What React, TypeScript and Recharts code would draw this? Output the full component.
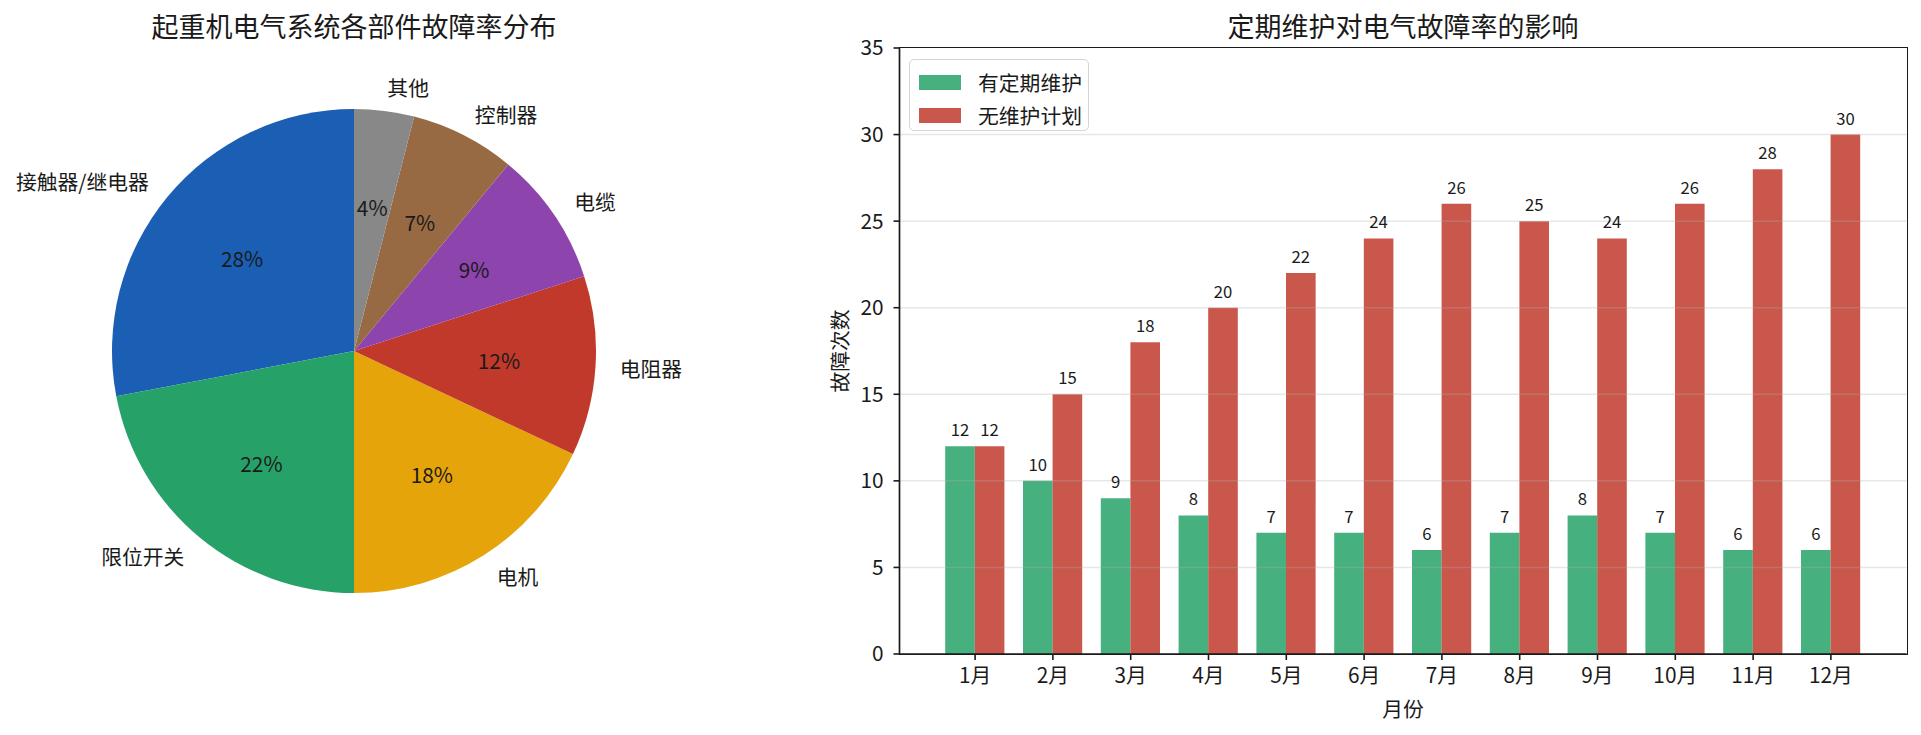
import {
  PieChart,
  Pie,
  Cell,
  BarChart,
  Bar,
  XAxis,
  YAxis,
  ReferenceLine,
  LabelList,
  Legend,
} from 'recharts'

const FONT = '"Noto Sans CJK SC", "Noto Sans", sans-serif'
const INK = '#1a1a1a'

// pie: share of failures by component
const parts = ['接触器/继电器', '限位开关', '电机', '电阻器', '电缆', '控制器', '其他']
const partShares = [28, 22, 18, 12, 9, 7, 4]
const partColors = ['#1a5fb4', '#26a269', '#e5a50a', '#c0392b', '#8e44ad', '#986a44', '#888888']

// bars: monthly failures with / without maintenance
const months = ['1月', '2月', '3月', '4月', '5月', '6月', '7月', '8月', '9月', '10月', '11月', '12月']
const withMaintenance = [12, 10, 9, 8, 7, 7, 6, 7, 8, 7, 6, 6]
const withoutPlan = [12, 15, 18, 20, 22, 24, 26, 25, 24, 26, 28, 30]
const seriesNames = ['有定期维护', '无维护计划']
const yTicks = [0, 5, 10, 15, 20, 25, 30, 35]
const gridTicks = [5, 10, 15, 20, 25, 30]

const pieData = parts.map((name, i) => ({ name, value: partShares[i] }))
const barData = months.map((month, i) => ({
  month,
  a: withMaintenance[i],
  b: withoutPlan[i],
}))

const RADIAN = Math.PI / 180

function renderPieLabel(props: any) {
  const { cx, cy, midAngle, outerRadius, percent, name } = props
  const cos = Math.cos(-midAngle * RADIAN)
  const sin = Math.sin(-midAngle * RADIAN)
  const lx = cx + outerRadius * 1.1 * cos
  const ly = cy + outerRadius * 1.1 * sin
  const px = cx + outerRadius * 0.6 * cos
  const py = cy + outerRadius * 0.6 * sin
  return (
    <g>
      <text
        x={lx}
        y={ly}
        textAnchor={lx > cx ? 'start' : 'end'}
        dominantBaseline="central"
        fontSize={20.8}
        fontFamily={FONT}
        fill={INK}
      >
        {name}
      </text>
      <text
        x={px}
        y={py}
        textAnchor="middle"
        dominantBaseline="central"
        fontSize={20.8}
        fontFamily={FONT}
        fill={INK}
      >
        {Math.round(percent * 100)}%
      </text>
    </g>
  )
}

function renderLegend(props: any) {
  // keep the series order, not the alphabetical one
  const items = [...(props.payload || [])].sort(
    (p: any, q: any) => seriesNames.indexOf(p.value) - seriesNames.indexOf(q.value),
  )
  return (
    <div
      style={{
        width: 180,
        height: 72,
        boxSizing: 'border-box',
        border: '1.5px solid #d5d5d5',
        borderRadius: 5,
        background: 'rgba(255,255,255,0.8)',
        padding: '6px 0 0 9px',
        fontFamily: FONT,
        fontSize: 20.8,
        color: INK,
      }}
    >
      {items.map((item: any) => (
        <div key={item.value} style={{ display: 'flex', alignItems: 'center', height: 32.7 }}>
          <span
            style={{
              width: 42,
              height: 15,
              background: item.color,
              opacity: 0.85,
              marginRight: 17,
              flexShrink: 0,
            }}
          />
          <span style={{ lineHeight: 1 }}>{item.value}</span>
        </div>
      ))}
    </div>
  )
}

const abs = (left: number, top: number): React.CSSProperties => ({
  position: 'absolute',
  left,
  top,
})

export default function App() {
  return (
    <div
      style={{
        position: 'absolute',
        left: 0,
        top: 0,
        width: 1921,
        height: 735,
        background: '#fff',
        fontFamily: FONT,
        color: INK,
        overflow: 'hidden',
      }}
    >
      {/* titles and axis names */}
      <div style={{ ...abs(54, 8), width: 600, textAlign: 'center', fontSize: 27, lineHeight: '36px' }}>
        起重机电气系统各部件故障率分布
      </div>
      <div style={{ ...abs(1103, 8), width: 600, textAlign: 'center', fontSize: 27, lineHeight: '36px' }}>
        定期维护对电气故障率的影响
      </div>
      <div
        style={{
          ...abs(839, 351),
          transform: 'translate(-50%, -50%) rotate(-90deg)',
          whiteSpace: 'nowrap',
          fontSize: 20.8,
          lineHeight: 1,
        }}
      >
        故障次数
      </div>
      <div
        style={{
          ...abs(1403, 708),
          transform: 'translate(-50%, -50%)',
          whiteSpace: 'nowrap',
          fontSize: 20.8,
          lineHeight: 1,
        }}
      >
        月份
      </div>

      <div style={{ ...abs(0, 0), width: 720, height: 735 }}>
        <PieChart width={720} height={735} margin={{ top: 0, right: 0, bottom: 0, left: 0 }}>
          <Pie
            data={pieData}
            dataKey="value"
            nameKey="name"
            cx={354}
            cy={351}
            outerRadius={242}
            startAngle={90}
            endAngle={450}
            stroke="none"
            label={renderPieLabel}
            labelLine={false}
            isAnimationActive={false}
          >
            {pieData.map((d, i) => (
              <Cell key={d.name} fill={partColors[i]} />
            ))}
          </Pie>
        </PieChart>
      </div>

      <div style={{ ...abs(780, 0), width: 1141, height: 735 }}>
        <BarChart
          width={1141}
          height={735}
          data={barData}
          margin={{ top: 48, right: 14.5, bottom: 51, left: 0 }}
          barGap={0}
          barSize={29.6}
        >
          <XAxis
            dataKey="month"
            height={30}
            padding={{ left: 36.7, right: 36.7 }}
            tickSize={6}
            tickMargin={8}
            tick={{ fontSize: 20.8, fontFamily: FONT, fill: INK }}
            tickLine={{ stroke: INK, strokeWidth: 1.6 }}
            axisLine={{ stroke: INK, strokeWidth: 1.7 }}
            interval={0}
          />
          <YAxis
            domain={[0, 35]}
            ticks={yTicks}
            width={119.5}
            tickSize={6}
            tickMargin={10}
            tick={{ fontSize: 20.8, fontFamily: FONT, fill: INK }}
            tickLine={{ stroke: INK, strokeWidth: 1.6 }}
            axisLine={{ stroke: INK, strokeWidth: 1.7 }}
          />
          <Legend
            layout="vertical"
            align="center"
            verticalAlign="middle"
            content={renderLegend}
            wrapperStyle={{ left: 129, top: 59, width: 180, height: 72 }}
          />
          <Bar dataKey="a" name={seriesNames[0]} fill="#26a269" fillOpacity={0.85} isAnimationActive={false}>
            <LabelList dataKey="a" position="top" offset={10} fontSize={16.7} fontFamily={FONT} fill={INK} />
          </Bar>
          <Bar dataKey="b" name={seriesNames[1]} fill="#c0392b" fillOpacity={0.85} isAnimationActive={false}>
            <LabelList dataKey="b" position="top" offset={10} fontSize={16.7} fontFamily={FONT} fill={INK} />
          </Bar>
          {gridTicks.map((v) => (
            <ReferenceLine key={v} y={v} stroke="#b0b0b0" strokeOpacity={0.3} strokeWidth={1.5} />
          ))}
        </BarChart>
      </div>

      {/* axes frame (top and right spines) */}
      <div
        style={{
          ...abs(899.5 - 0.85, 48 - 0.85),
          width: 1007,
          height: 606,
          border: `1.7px solid ${INK}`,
          pointerEvents: 'none',
        }}
      />
    </div>
  )
}
